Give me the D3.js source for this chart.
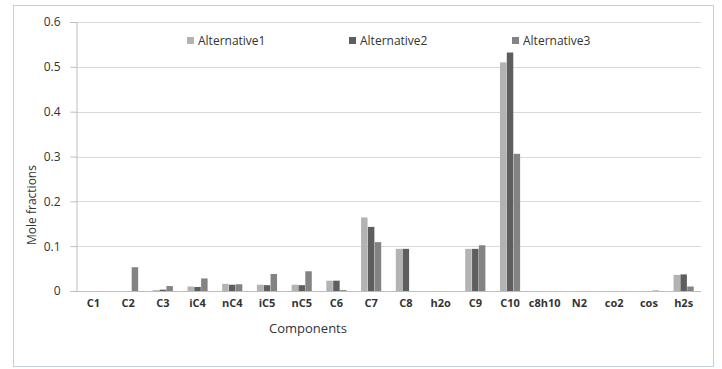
<!doctype html>
<html>
<head>
<meta charset="utf-8">
<title>Mole fractions by component</title>
<style type="text/css">
body { margin: 0; background: #fff; }
svg { display: block; font-family: "Open Sans", Calibri, sans-serif; }
</style>
<script src="https://cdnjs.cloudflare.com/ajax/libs/d3/7.8.5/d3.min.js"></script>
</head>
<body>
<script type="text/javascript">
var width = 722;
var height = 369;

// components on the x axis
var components = ["C1", "C2", "C3", "iC4", "nC4", "iC5", "nC5", "C6", "C7", "C8",
                  "h2o", "C9", "C10", "c8h10", "N2", "co2", "cos", "h2s"];

// values
var alternative1 = [0, 0, 0.002, 0.010, 0.016, 0.014, 0.014, 0.023, 0.164, 0.094,
                    0, 0.094, 0.510, 0, 0, 0, 0, 0.036];
var alternative2 = [0, 0, 0.003, 0.009, 0.014, 0.013, 0.013, 0.023, 0.143, 0.094,
                    0, 0.094, 0.532, 0, 0, 0, 0, 0.037];
var alternative3 = [0, 0.053, 0.011, 0.028, 0.015, 0.038, 0.044, 0.002, 0.109, 0,
                    0, 0.102, 0.306, 0, 0, 0, 0.001, 0.010];

var seriesNames = ["Alternative1", "Alternative2", "Alternative3"];
var seriesColors = ["#b3b3b3", "#5e5e5e", "#838383"];
var yTicks = [0, 0.1, 0.2, 0.3, 0.4, 0.5, 0.6];

var series = [alternative1, alternative2, alternative3];

var svg = d3.select("body").append("svg")
    .attr("width", width)
    .attr("height", height);

// outer chart frame
svg.append("rect")
    .attr("x", 13.5).attr("y", 5.5)
    .attr("width", 700).attr("height", 361)
    .attr("fill", "none")
    .attr("stroke", "#c5d2da");

var plotLeft = 76, plotRight = 701, plotTop = 22, plotBottom = 291;

var x = d3.scaleBand().domain(components).range([plotLeft, plotRight]).paddingInner(0.4).paddingOuter(0.2);
var xs = d3.scaleBand().domain(d3.range(3)).range([0, x.bandwidth()]).padding(0.05);
var y = d3.scaleLinear().domain([0, 0.6]).range([plotBottom, plotTop]);

// gridlines
svg.append("g").selectAll("line")
    .data(yTicks.slice(1))
    .enter().append("line")
    .attr("x1", plotLeft).attr("x2", plotRight)
    .attr("y1", function(d) { return Math.round(y(d)) + 0.5; })
    .attr("y2", function(d) { return Math.round(y(d)) + 0.5; })
    .attr("stroke", "#d9d9d9")
    .attr("stroke-width", 1.2);

// y axis
var yAxis = svg.append("g")
    .attr("transform", "translate(" + (plotLeft + 0.5) + ",0)")
    .call(d3.axisLeft(y).tickValues(yTicks).tickSize(6).tickPadding(10)
        .tickFormat(function(d) { return d === 0 ? "0" : d3.format(".1f")(d); }));
yAxis.select(".domain").attr("stroke", "#bdbdbd");
yAxis.selectAll(".tick line").attr("stroke", "#bdbdbd");
yAxis.selectAll("text").attr("font-size", 12).attr("fill", "#333").attr("font-family", "Open Sans");

// bars
var groups = svg.append("g").selectAll("g")
    .data(components)
    .enter().append("g")
    .attr("transform", function(d) { return "translate(" + x(d) + ",0)"; });

groups.selectAll("rect")
    .data(function(d, i) { return series.map(function(s, k) { return {k: k, v: s[i]}; }); })
    .enter().append("rect")
    .attr("x", function(d) { return xs(d.k); })
    .attr("width", xs.bandwidth())
    .attr("y", function(d) { return y(d.v); })
    .attr("height", function(d) { return y(0) - y(d.v); })
    .attr("fill", function(d) { return seriesColors[d.k]; });

// x axis baseline
svg.append("line")
    .attr("x1", plotLeft).attr("x2", plotRight)
    .attr("y1", plotBottom + 0.5).attr("y2", plotBottom + 0.5)
    .attr("stroke", "#bdbdbd");

// category labels
svg.append("g").selectAll("text")
    .data(components)
    .enter().append("text")
    .attr("x", function(d) { return x(d) + x.bandwidth() / 2; })
    .attr("y", 307)
    .attr("text-anchor", "middle")
    .attr("font-size", 11)
    .attr("font-weight", "bold")
    .attr("fill", "#333")
    .text(function(d) { return d; });

// axis titles
svg.append("text")
    .attr("x", 308).attr("y", 333)
    .attr("text-anchor", "middle")
    .attr("font-size", 13)
    .attr("fill", "#333")
    .text("Components");

svg.append("text")
    .attr("transform", "translate(36,205) rotate(-90)")
    .attr("text-anchor", "middle")
    .attr("font-size", 12)
    .attr("fill", "#333")
    .text("Mole fractions");

// legend
var legendX = [187, 349, 512];
var legend = svg.append("g").selectAll("g")
    .data(seriesNames)
    .enter().append("g")
    .attr("transform", function(d, i) { return "translate(" + legendX[i] + ",45)"; });
legend.append("rect")
    .attr("x", 0).attr("y", -8)
    .attr("width", 7).attr("height", 7)
    .attr("fill", function(d, i) { return seriesColors[i]; });
legend.append("text")
    .attr("x", 11).attr("y", 0)
    .attr("font-size", 12)
    .attr("fill", "#333")
    .text(function(d) { return d; });
</script>
</body>
</html>
